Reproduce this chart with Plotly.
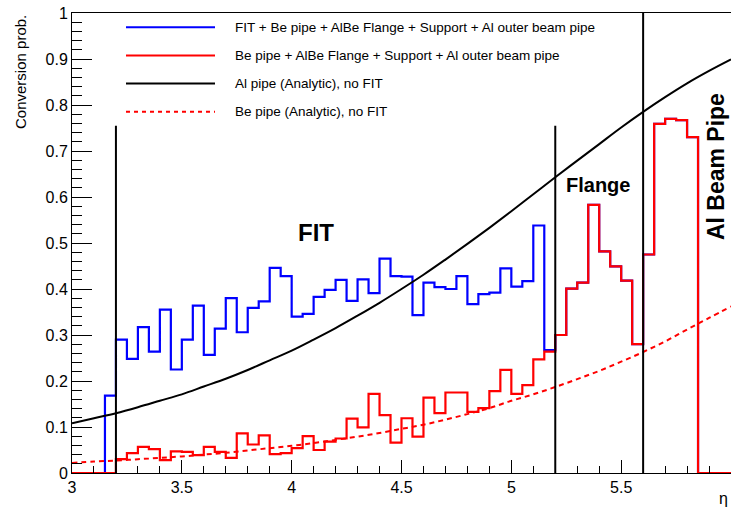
import plotly.graph_objects as go

# ---------------- data ----------------
bin_lo = 3.0
bin_width = 0.05

fit_total = [0, 0, 0, 0.168, 0.290, 0.248, 0.317, 0.264, 0.355, 0.225,
             0.290, 0.364, 0.257, 0.314, 0.380, 0.306, 0.359, 0.373, 0.446, 0.428,
             0.340, 0.346, 0.383, 0.398, 0.420, 0.374, 0.421, 0.391, 0.466, 0.428,
             0.427, 0.343, 0.414, 0.404, 0.400, 0.428, 0.367, 0.389, 0.392, 0.445,
             0.405, 0.417, 0.538, 0.267, 0.300, 0.401, 0.414, 0.583, 0.482, 0.449,
             0.418, 0.280, 0.475, 0.759, 0.770, 0.767, 0.730, 0, 0, 0]

no_fit = [0, 0, 0, 0, 0.030, 0.043, 0.057, 0.052, 0.028, 0.047,
          0.046, 0.039, 0.057, 0.046, 0.033, 0.086, 0.062, 0.082, 0.041, 0.043,
          0.054, 0.080, 0.050, 0.068, 0.075, 0.118, 0.099, 0.172, 0.126, 0.066,
          0.119, 0.079, 0.164, 0.130, 0.175, 0.175, 0.133, 0.141, 0.178, 0.224,
          0.172, 0.191, 0.247, 0.264, 0.300, 0.401, 0.414, 0.583, 0.482, 0.449,
          0.418, 0.280, 0.475, 0.759, 0.770, 0.767, 0.730, 0, 0, 0]

eta_curve = [3.0, 3.1, 3.2, 3.3, 3.4, 3.5, 3.6, 3.7, 3.8, 3.9, 4.0,
             4.1, 4.2, 4.3, 4.4, 4.5, 4.6, 4.7, 4.8, 4.9, 5.0,
             5.1, 5.2, 5.3, 5.4, 5.5, 5.6, 5.7, 5.8, 5.9, 6.0]
al_pipe = [0.108, 0.119, 0.130, 0.143, 0.157, 0.171, 0.188, 0.205, 0.224, 0.245, 0.266,
           0.290, 0.315, 0.342, 0.370, 0.400, 0.431, 0.464, 0.498, 0.533, 0.569,
           0.606, 0.643, 0.679, 0.715, 0.751, 0.785, 0.817, 0.847, 0.874, 0.899]
be_pipe = [0.022, 0.025, 0.027, 0.030, 0.033, 0.036, 0.040, 0.044, 0.049, 0.054, 0.059,
           0.065, 0.072, 0.079, 0.087, 0.096, 0.105, 0.116, 0.128, 0.141, 0.157,
           0.171, 0.187, 0.204, 0.222, 0.242, 0.263, 0.286, 0.312, 0.337, 0.362]

region_x = [3.2, 5.2, 5.6]
region_top = [0.755, 0.755, 1.0]

legend_labels = ["FIT + Be pipe + AlBe Flange + Support + Al outer beam pipe",
                 "Be pipe + AlBe Flange + Support + Al outer beam pipe",
                 "Al pipe (Analytic), no FIT",
                 "Be pipe (Analytic), no FIT"]
legend_colors = ["#0000ff", "#ff0000", "#000000", "#ff0000"]
legend_dash = ["solid", "solid", "solid", "4px,4px"]

FONT = "Liberation Sans, Arial, Helvetica, sans-serif"

# ---------------- figure ----------------
def edges(n):
    return [bin_lo + bin_width * i for i in range(n + 1)]

fig = go.Figure()

fig.add_trace(go.Scatter(x=edges(len(fit_total)), y=fit_total + [fit_total[-1]],
                         mode="lines", line=dict(color="#0000ff", width=2.2, shape="hv"),
                         showlegend=False))
fig.add_trace(go.Scatter(x=edges(len(no_fit)), y=no_fit + [no_fit[-1]],
                         mode="lines", line=dict(color="#ff0000", width=2.2, shape="hv"),
                         showlegend=False))
fig.add_trace(go.Scatter(x=eta_curve, y=al_pipe, mode="lines",
                         line=dict(color="black", width=2, shape="spline"),
                         showlegend=False))
fig.add_trace(go.Scatter(x=eta_curve, y=be_pipe, mode="lines",
                         line=dict(color="#ff0000", width=2, dash="5px,4px", shape="spline"),
                         showlegend=False))
for xv, top in zip(region_x, region_top):
    fig.add_trace(go.Scatter(x=[xv, xv], y=[0, top], mode="lines",
                             line=dict(color="black", width=2), showlegend=False))

# ---------------- layout ----------------
W, H = 731, 511
ML, MT, MB, MR = 72, 13, 38, 0
pw = W - ML - MR
ph = H - MT - MB

def px(xp):
    return (xp - ML) / pw

def py(yp):
    return (H - MB - yp) / ph

shapes = []
annotations = []
rows = [27.3, 55.5, 83.5, 111.7]
for lab, col, dsh, yr in zip(legend_labels, legend_colors, legend_dash, rows):
    shapes.append(dict(type="line", xref="paper", yref="paper",
                       x0=px(126), x1=px(215), y0=py(yr), y1=py(yr),
                       line=dict(color=col, width=2, dash=dsh)))
    annotations.append(dict(text=lab, xref="paper", yref="paper",
                            x=px(233), y=py(yr), xanchor="left", yanchor="middle",
                            showarrow=False, font=dict(family=FONT, size=13.5, color="black")))

annotations += [
    dict(text="<b>FIT</b>", x=4.11, y=0.522, xref="x", yref="y", showarrow=False,
         font=dict(family=FONT, size=24, color="black")),
    dict(text="<b>Flange</b>", x=5.394, y=0.626, xref="x", yref="y", showarrow=False,
         font=dict(family=FONT, size=20, color="black")),
    dict(text="<b>Al Beam Pipe</b>", xref="paper", y=0.665, yref="y", x=px(716),
         xanchor="center", showarrow=False,
         textangle=-90, font=dict(family=FONT, size=23, color="black")),
    dict(text="Conversion prob.", xref="paper", yref="paper", x=px(20), y=1.0,
         xanchor="center", yanchor="top", textangle=-90, showarrow=False,
         font=dict(family=FONT, size=15, color="black")),
    dict(text="η", xref="paper", yref="paper", x=px(723), y=py(499),
         xanchor="center", yanchor="middle", showarrow=False,
         font=dict(family=FONT, size=16, color="black")),
]

fig.update_layout(
    width=W, height=H,
    margin=dict(l=ML, r=MR, t=MT, b=MB, pad=0),
    paper_bgcolor="white", plot_bgcolor="white",
    showlegend=False,
    shapes=shapes, annotations=annotations,
    font=dict(family=FONT, size=16, color="black"),
)
fig.update_xaxes(range=[3, 6], showgrid=False, zeroline=False,
                 showline=True, linecolor="black", linewidth=1, mirror=True,
                 ticks="inside", ticklen=13, tickwidth=1, tickcolor="black",
                 tick0=3, dtick=0.5,
                 minor=dict(ticks="inside", ticklen=7, dtick=0.1, tickcolor="black", showgrid=False),
                 tickfont=dict(family=FONT, size=16, color="black"))
fig.update_yaxes(range=[0, 1], showgrid=False, zeroline=False,
                 showline=True, linecolor="black", linewidth=1, mirror=True,
                 ticks="inside", ticklen=20, tickwidth=1, tickcolor="black",
                 tick0=0, dtick=0.1,
                 minor=dict(ticks="inside", ticklen=10, dtick=0.02, tickcolor="black", showgrid=False),
                 tickfont=dict(family=FONT, size=16, color="black"))

fig.write_html("out.html")
